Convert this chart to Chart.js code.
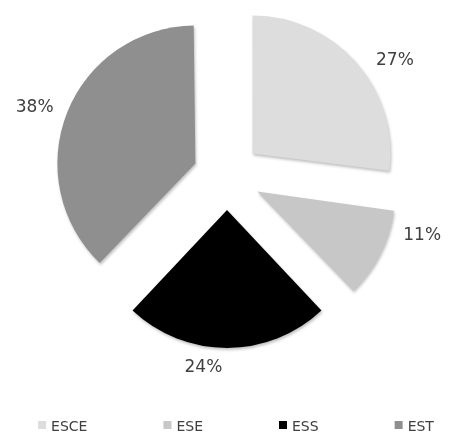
<!DOCTYPE html>
<html>
<head>
<meta charset="utf-8">
<script src="https://cdn.jsdelivr.net/npm/chart.js@4.4.1/dist/chart.umd.min.js"></script>
<style>
  html, body { margin: 0; padding: 0; background: #fff; }
  #wrap { width: 452px; height: 434px; }
</style>
</head>
<body>
<div id="wrap"><canvas id="chart"></canvas></div>
<script>
const categories = ["ESCE", "ESE", "ESS", "EST"];
const shares = [27, 11, 24, 38];
const sliceColors = ["#dddddd", "#c7c7c7", "#000000", "#8f8f8f"];

// percentage labels sit a little off the slice middle in the original (degrees)
const labelTurn = [7, -10, 7, -2];

const pieRadius = 138;
const explode = 136; // chart.js moves a slice by offset/4
const textColor = "#404040";
const fontFamily = "'DejaVu Sans', Verdana, sans-serif";

// chart.js also grows narrow/wide slices with the offset, keep all at one radius
const evenRadius = {
  id: "evenRadius",
  afterDatasetsUpdate(chart){
    const shift = explode / 4;
    chart.getDatasetMeta(0).data.forEach(arc => {
      const fix = 1 - Math.sin(Math.min(Math.PI, arc.circumference));
      arc.outerRadius = pieRadius - shift * fix;
    });
  }
};

const sliceShadow = {
  id: "sliceShadow",
  beforeDatasetsDraw(chart){
    const ctx = chart.ctx;
    ctx.save();
    ctx.shadowColor = "rgba(0,0,0,0.25)";
    ctx.shadowBlur = 3;
    ctx.shadowOffsetX = 1;
    ctx.shadowOffsetY = 2;
  },
  afterDatasetsDraw(chart){
    chart.ctx.restore();
  }
};

const pctLabels = {
  id: "pctLabels",
  afterDraw(chart){
    const ctx = chart.ctx;
    const meta = chart.getDatasetMeta(0);
    const total = shares.reduce((s, v) => s + v, 0);
    ctx.save();
    ctx.font = "17px " + fontFamily;
    ctx.fillStyle = textColor;
    ctx.textAlign = "center";
    ctx.textBaseline = "middle";
    meta.data.forEach((arc, i) => {
      const p = arc.getProps(["x", "y", "startAngle", "endAngle"], true);
      const a = (p.startAngle + p.endAngle) / 2 + labelTurn[i] * Math.PI / 180;
      const dx = Math.cos(a), dy = Math.sin(a);
      const txt = Math.round(shares[i] / total * 100) + "%";
      const w = ctx.measureText(txt).width;
      const d = pieRadius + explode / 4 + 12 + Math.abs(dx) * w / 2 + Math.abs(dy) * 7;
      ctx.fillText(txt, p.x + dx * d, p.y + dy * d);
    });
    ctx.restore();
  }
};

// excel style legend: one row, same gap between every entry
const bottomLegend = {
  id: "bottomLegend",
  afterDraw(chart){
    const ctx = chart.ctx;
    const box = 8, textGap = 5, itemGap = 76;
    ctx.save();
    ctx.font = "14px " + fontFamily;
    ctx.textBaseline = "middle";
    ctx.textAlign = "left";
    const widths = categories.map(c => box + textGap + ctx.measureText(c).width);
    const total = widths.reduce((s, w) => s + w, 0) + itemGap * (categories.length - 1);
    let x = chart.width / 2 + 10 - total / 2;
    const y = chart.height - 7;
    categories.forEach((c, i) => {
      ctx.fillStyle = sliceColors[i];
      ctx.fillRect(x, y - 6, box, box);
      ctx.fillStyle = textColor;
      ctx.fillText(c, x + box + textGap, y);
      x += widths[i] + itemGap;
    });
    ctx.restore();
  }
};

new Chart(document.getElementById("chart"), {
  type: "pie",
  data: {
    labels: categories,
    datasets: [{
      data: shares,
      backgroundColor: sliceColors,
      borderWidth: 0,
      offset: explode,
      hoverOffset: 0
    }]
  },
  options: {
    responsive: true,
    maintainAspectRatio: false,
    animation: false,
    events: [],
    radius: pieRadius,
    layout: { padding: { left: 2, right: 0, top: 0, bottom: 82 } },
    plugins: {
      legend: { display: false },
      tooltip: { enabled: false }
    }
  },
  plugins: [evenRadius, sliceShadow, pctLabels, bottomLegend]
});
</script>
</body>
</html>
